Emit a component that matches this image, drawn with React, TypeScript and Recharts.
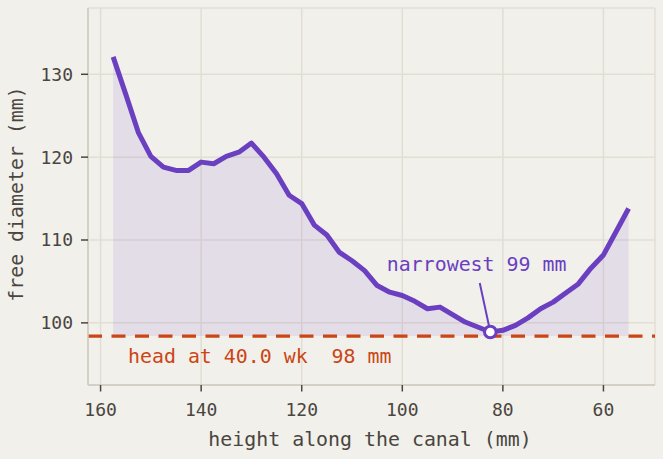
import React from "react";
import {
  ComposedChart,
  Area,
  Line,
  XAxis,
  YAxis,
  CartesianGrid,
  ReferenceLine,
  ReferenceDot,
} from "recharts";

// height along the canal (mm), from the inlet downwards
const HEIGHTS = [
  157.5, 155, 152.5, 150, 147.5, 145, 142.5, 140, 137.5, 135, 132.5, 130,
  127.5, 125, 122.5, 120, 117.5, 115, 112.5, 110, 107.5, 105, 102.5, 100,
  97.5, 95, 92.5, 90, 87.5, 85, 82.5, 80, 77.5, 75, 72.5, 70, 67.5, 65, 62.5,
  60, 57.5, 55,
];

// free diameter (mm) at each height
const DIAMETERS = [
  132.1, 127.6, 123.0, 120.1, 118.8, 118.4, 118.4, 119.4, 119.2, 120.1, 120.6,
  121.7, 120.0, 118.0, 115.4, 114.4, 111.8, 110.6, 108.5, 107.5, 106.3, 104.5,
  103.7, 103.3, 102.6, 101.7, 101.9, 101.0, 100.1, 99.5, 98.9, 99.1, 99.7,
  100.6, 101.7, 102.5, 103.6, 104.7, 106.6, 108.2, 111.0, 113.8,
];

const X_TICKS = [160, 140, 120, 100, 80, 60];
const Y_TICKS = [100, 110, 120, 130];

const HEAD_DIAMETER = 98.4;
const HEAD_LABEL = "head at 40.0 wk  98 mm";
// where the annotation pointer starts (data units)
const NOTE_FROM = { x: 84.6, y: 104.8 };

const PURPLE = "#6a3fc0";
const ORANGE = "#cc4514";
const BG = "#f1f0eb";
const INK = "#4a4540";
const FONT = "'DejaVu Sans Mono', monospace";
const LABEL_SIZE = 19.9;

const data = HEIGHTS.map((h, i) => ({ h, d: DIAMETERS[i] }));

// narrowest point of the canal
const minIdx = DIAMETERS.indexOf(Math.min(...DIAMETERS));
const narrowest = { x: HEIGHTS[minIdx], y: DIAMETERS[minIdx] };

export default function App() {
  return (
    <div
      style={{
        position: "fixed",
        left: 0,
        top: 0,
        width: 663,
        height: 459,
        background: BG,
        fontFamily: FONT,
      }}
    >
      <ComposedChart
        width={663}
        height={459}
        data={data}
        margin={{ top: 8, right: 8, bottom: 8, left: 8 }}
      >
        <CartesianGrid stroke="#e3ded4" strokeWidth={1.5} />
        <XAxis
          type="number"
          dataKey="h"
          domain={[49.75, 162.5]}
          reversed
          allowDataOverflow
          ticks={X_TICKS}
          height={66}
          tickSize={6.5}
          tickMargin={12}
          axisLine={{ stroke: "#cfcabf", strokeWidth: 1.5 }}
          tickLine={{ stroke: INK, strokeWidth: 1.5 }}
          tick={{ fill: INK, fontSize: 18, fontFamily: FONT }}
          label={{
            content: () => (
              <text
                x={370}
                y={445.5}
                textAnchor="middle"
                fill={INK}
                fontSize={LABEL_SIZE}
                fontFamily={FONT}
              >
                height along the canal (mm)
              </text>
            ),
          }}
        />
        <YAxis
          type="number"
          domain={[92.5, 138]}
          allowDataOverflow
          ticks={Y_TICKS}
          width={80}
          tickSize={7}
          tickMargin={8}
          axisLine={{ stroke: "#cfcabf", strokeWidth: 1.5 }}
          tickLine={{ stroke: INK, strokeWidth: 1.5 }}
          tick={{ fill: INK, fontSize: 18, fontFamily: FONT }}
          label={{
            content: () => (
              <text
                x={22.5}
                y={194}
                transform="rotate(-90, 22.5, 194)"
                textAnchor="middle"
                fill={INK}
                fontSize={LABEL_SIZE}
                fontFamily={FONT}
              >
                free diameter (mm)
              </text>
            ),
          }}
        />
        <Area
          type="linear"
          dataKey="d"
          baseValue={HEAD_DIAMETER}
          fill={PURPLE}
          fillOpacity={0.1}
          stroke={PURPLE}
          strokeOpacity={0.08}
          strokeWidth={1}
          isAnimationActive={false}
        />
        <ReferenceLine
          y={HEAD_DIAMETER}
          stroke={ORANGE}
          strokeWidth={3.2}
          strokeDasharray="14 9.5"
          label={{
            content: (p: any) => (
              <text
                x={(p.viewBox?.x ?? 88) + 40}
                y={(p.viewBox?.y ?? 336) + 26.5}
                fill={ORANGE}
                fontSize={LABEL_SIZE}
                fontFamily={FONT}
                xmlSpace="preserve"
                style={{ whiteSpace: "pre" }}
              >
                {HEAD_LABEL}
              </text>
            ),
          }}
        />
        <Line
          type="linear"
          dataKey="d"
          stroke={PURPLE}
          strokeWidth={5}
          strokeLinejoin="round"
          dot={false}
          activeDot={false}
          isAnimationActive={false}
        />
        <ReferenceLine
          segment={[NOTE_FROM, narrowest]}
          stroke={PURPLE}
          strokeWidth={2}
        />
        <ReferenceDot
          x={narrowest.x}
          y={narrowest.y}
          r={5.8}
          fill="#ffffff"
          stroke={PURPLE}
          strokeWidth={3}
          label={{
            content: (p: any) => {
              const vb = p.viewBox || { x: 485, y: 326, width: 11, height: 11 };
              const cx = vb.x + vb.width / 2;
              const cy = vb.y + vb.height / 2;
              return (
                <text
                  x={cx - 103.5}
                  y={cy - 61}
                  fill={PURPLE}
                  fontSize={LABEL_SIZE}
                  fontFamily={FONT}
                >
                  {`narrowest ${Math.round(narrowest.y)} mm`}
                </text>
              );
            },
          }}
        />
      </ComposedChart>
    </div>
  );
}
